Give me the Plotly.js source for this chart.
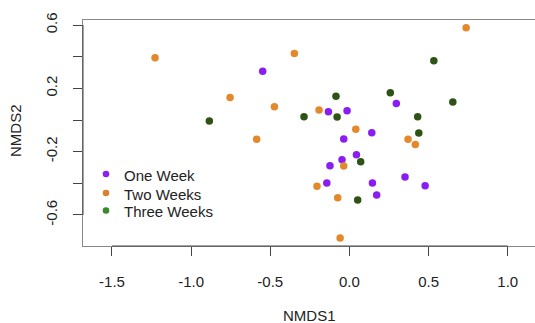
<!DOCTYPE html>
<html>
<head>
<meta charset="utf-8">
<script src="https://cdn.plot.ly/plotly-3.0.1.min.js"></script>
<style>
html,body{margin:0;padding:0;background:#fff;overflow:hidden;}
#chart{width:535px;height:323px;}
</style>
</head>
<body>
<div id="chart"></div>
<script>
// Data (NMDS scores)
var groupNames = ["One Week", "Two Weeks", "Three Weeks"];

var oneWeekX = [-0.548, 0.296, -0.133, -0.015, 0.141, -0.036, 0.044, -0.047, -0.123, -0.143, 0.145, 0.351, 0.478, 0.172];
var oneWeekY = [0.308, 0.105, 0.052, 0.059, -0.080, -0.120, -0.219, -0.251, -0.289, -0.398, -0.398, -0.360, -0.415, -0.474];

var twoWeeksX = [-1.228, -0.348, 0.737, -0.754, -0.474, -0.586, -0.192, 0.040, 0.370, 0.416, -0.036, -0.205, -0.074, -0.059];
var twoWeeksY = [0.394, 0.421, 0.583, 0.143, 0.084, -0.122, 0.063, -0.059, -0.122, -0.154, -0.291, -0.419, -0.491, -0.745];

var threeWeeksX = [-0.885, -0.287, -0.085, -0.078, 0.258, 0.533, 0.653, 0.431, 0.438, 0.071, 0.052];
var threeWeeksY = [-0.006, 0.021, 0.150, 0.019, 0.172, 0.375, 0.114, 0.021, -0.082, -0.263, -0.505];

var xTickVals = [-1.5, -1.0, -0.5, 0.0, 0.5, 1.0];
var xTickText = ["-1.5", "-1.0", "-0.5", "0.0", "0.5", "1.0"];
var yTickVals = [-0.6, -0.4, -0.2, 0.0, 0.2, 0.4, 0.6];
var yTickText = ["-0.6", "", "-0.2", "", "0.2", "", "0.6"];

var pointColors = ["#8A1DF2", "#E3892B", "#2D5414"];
var legendColors = ["#8A22EE", "#D9822B", "#3B8A2A"];

var FONT = "'Liberation Sans', Arial, Helvetica, sans-serif";

var M = {l: 83, r: 0, t: 20, b: 77};
var W = 535, H = 323;
var PW = W - M.l - M.r, PH = H - M.t - M.b;
function px2paperX(px) { return (px - M.l) / PW; }
function px2paperY(py) { return (H - M.b - py) / PH; }

var xs = [oneWeekX, twoWeeksX, threeWeeksX];
var ys = [oneWeekY, twoWeeksY, threeWeeksY];

var traces = [];
for (var i = 0; i < 3; i++) {
  traces.push({
    type: "scatter", mode: "markers",
    x: xs[i], y: ys[i], name: groupNames[i],
    showlegend: false,
    marker: {color: pointColors[i], size: 7.5, line: {width: 0}},
    hoverinfo: "x+y+name"
  });
}

var shapes = [
  {type: "line", xref: "x", yref: "paper", x0: -1.5, x1: 1.0, y0: 0, y1: 0,
   line: {color: "#444", width: 1}},
  {type: "line", xref: "paper", yref: "y", x0: 0, x1: 0, y0: -0.6, y1: 0.6,
   line: {color: "#444", width: 1}}
];
var annotations = [
  {text: "NMDS1", xref: "paper", yref: "paper", x: 0.5, y: px2paperY(315),
   xanchor: "center", yanchor: "middle", showarrow: false,
   font: {family: FONT, size: 15, color: "#222"}},
  {text: "NMDS2", xref: "paper", yref: "paper", x: px2paperX(15), y: px2paperY(131),
   xanchor: "center", yanchor: "middle", showarrow: false, textangle: -90,
   font: {family: FONT, size: 15, color: "#222"}}
];

// Legend (drawn as shapes + text, like R's legend())
var legendRowsY = [174, 193, 210.5];
var legendSymX = 106, legendTextX = 122, r = 3.3;
for (var k = 0; k < 3; k++) {
  shapes.push({
    type: "circle", xref: "paper", yref: "paper",
    xsizemode: "pixel", ysizemode: "pixel",
    xanchor: px2paperX(legendSymX), yanchor: px2paperY(legendRowsY[k]),
    x0: -r, x1: r, y0: -r, y1: r,
    fillcolor: legendColors[k], line: {width: 0}
  });
  annotations.push({
    text: groupNames[k], xref: "paper", yref: "paper",
    x: px2paperX(legendTextX), y: px2paperY(legendRowsY[k] + 1),
    xanchor: "left", yanchor: "middle", showarrow: false,
    font: {family: FONT, size: 15, color: "#222"}
  });
}

var layout = {
  width: W, height: H,
  margin: {l: M.l, r: M.r, t: M.t, b: M.b, pad: 0},
  paper_bgcolor: "#fff", plot_bgcolor: "#fff",
  font: {family: FONT, size: 15, color: "#222"},
  showlegend: false,
  xaxis: {
    range: [-1.683, 1.172],
    tickmode: "array", tickvals: xTickVals, ticktext: xTickText,
    ticks: "outside", ticklen: 9, tickwidth: 1, tickcolor: "#444",
    showline: true, linecolor: "#888", linewidth: 1, mirror: true,
    showgrid: false, zeroline: false,
    tickfont: {family: FONT, size: 15, color: "#222"},
    ticklabelstandoff: 13
  },
  yaxis: {
    range: [-0.796, 0.632],
    tickmode: "array", tickvals: yTickVals, ticktext: yTickText,
    ticks: "outside", ticklen: 9, tickwidth: 1, tickcolor: "#444",
    tickangle: -90,
    showline: true, linecolor: "#888", linewidth: 1, mirror: false,
    showgrid: false, zeroline: false,
    tickfont: {family: FONT, size: 15, color: "#222"},
    ticklabelstandoff: 10
  },
  shapes: shapes,
  annotations: annotations
};

Plotly.newPlot("chart", traces, layout, {displayModeBar: false, staticPlot: true});
</script>
</body>
</html>
